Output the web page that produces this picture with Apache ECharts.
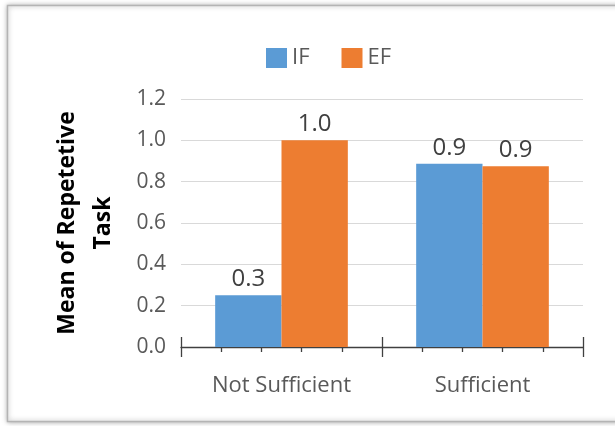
<!DOCTYPE html>
<html>
<head>
<meta charset="utf-8">
<style>
  html, body { margin: 0; padding: 0; background: #ffffff; }
  #chart { width: 615px; height: 426px; }
</style>
<script src="https://cdn.jsdelivr.net/npm/echarts@6/dist/echarts.min.js"></script>
</head>
<body>
<div id="chart"></div>
<script>
// Mean of repetitive task by funding sufficiency
const categories = ['Not Sufficient', 'Sufficient'];
const seriesNames = ['IF', 'EF'];
const ifValues = [0.25, 0.887];
const efValues = [1.0, 0.875];
const yTicks = [0, 0.2, 0.4, 0.6, 0.8, 1.0, 1.2];

const FONT = '"Open Sans", sans-serif';
const chart = echarts.init(document.getElementById('chart'), null, { renderer: 'canvas' });

const valueLabel = {
  show: true,
  position: 'top',
  distance: 4,
  color: '#404040',
  fontFamily: FONT,
  fontSize: 24,
  formatter: p => (Math.round(p.value * 10) / 10).toFixed(1)
};

chart.setOption({
  animation: false,
  backgroundColor: 'transparent',
  color: ['#5b9bd5', '#ed7d31'],
  graphic: [{
    type: 'rect',
    z: -10,
    shape: { x: 7.5, y: 5.5, width: 640, height: 416 },
    style: {
      fill: '#ffffff',
      stroke: '#b4b4b4',
      lineWidth: 1.5,
      shadowBlur: 5,
      shadowColor: 'rgba(0,0,0,0.35)'
    },
    silent: true
  }],
  legend: {
    data: seriesNames,
    top: 42,
    left: 261,
    itemWidth: 21,
    itemHeight: 20,
    itemGap: 32,
    icon: 'rect',
    textStyle: { color: '#595959', fontFamily: FONT, fontSize: 22, padding: [0, 0, 0, 0] }
  },
  grid: { left: 181, right: 32, top: 99, bottom: 79 },
  xAxis: [{
    type: 'category',
    data: categories,
    axisLine: { show: true, lineStyle: { color: '#404040', width: 1.3 } },
    axisTick: { show: false },
    axisLabel: { color: '#595959', fontFamily: FONT, fontSize: 22, margin: 28 },
    splitLine: { show: false }
  }, {
    // tick marks below the axis: category boundaries plus minor divisions
    type: 'value',
    position: 'bottom',
    min: 0, max: categories.length, interval: 1,
    axisLine: { show: false },
    axisLabel: { show: false },
    splitLine: { show: false },
    axisTick: { show: true, length: 10, lineStyle: { color: '#404040', width: 1.3 } },
    minorTick: { show: true, splitNumber: 5, length: 5, lineStyle: { color: '#404040', width: 1.3 } },
    minorSplitLine: { show: false }
  }, {
    // boundary ticks continuing above the axis
    type: 'value',
    position: 'bottom',
    min: 0, max: categories.length, interval: 1,
    axisLine: { show: false },
    axisLabel: { show: false },
    splitLine: { show: false },
    axisTick: { show: true, inside: true, length: 10, lineStyle: { color: '#404040', width: 1.3 } }
  }],
  yAxis: {
    type: 'value',
    min: yTicks[0],
    max: yTicks[yTicks.length - 1],
    interval: 0.2,
    name: 'Mean of Repetetive\nTask',
    nameLocation: 'middle',
    nameRotate: 90,
    nameGap: 60,
    nameTextStyle: { color: '#000000', fontFamily: FONT, fontWeight: 'bold', fontSize: 23, lineHeight: 36 },
    axisLine: { show: false },
    axisTick: { show: false },
    axisLabel: { color: '#595959', fontFamily: FONT, fontSize: 21, margin: 15, formatter: v => v.toFixed(1) },
    splitLine: { lineStyle: { color: '#d9d9d9', width: 1.2 } }
  },
  series: [{
    name: seriesNames[0],
    type: 'bar',
    xAxisIndex: 0,
    data: ifValues,
    barGap: '0%',
    barCategoryGap: '34%',
    label: valueLabel
  }, {
    name: seriesNames[1],
    type: 'bar',
    xAxisIndex: 0,
    data: efValues,
    barGap: '0%',
    barCategoryGap: '34%',
    label: valueLabel
  }]
});
</script>
</body>
</html>
